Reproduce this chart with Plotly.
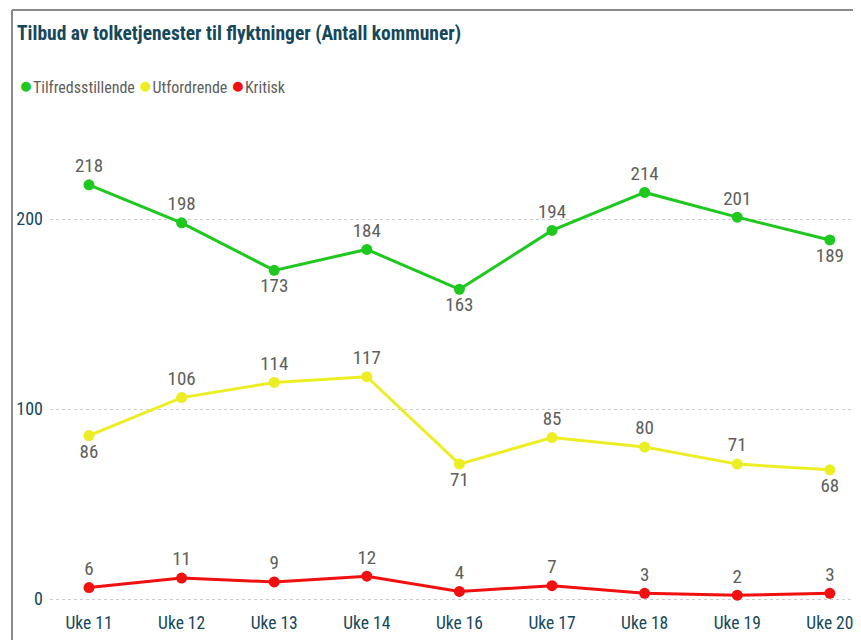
import plotly.graph_objects as go

weeks = ["Uke 11", "Uke 12", "Uke 13", "Uke 14", "Uke 16", "Uke 17", "Uke 18", "Uke 19", "Uke 20"]
tilfreds = [218, 198, 173, 184, 163, 194, 214, 201, 189]
utford = [86, 106, 114, 117, 71, 85, 80, 71, 68]
kritisk = [6, 11, 9, 12, 4, 7, 3, 2, 3]

pos_green = ["top center", "top center", "bottom center", "top center", "bottom center",
             "top center", "top center", "top center", "bottom center"]
pos_yellow = ["bottom center", "top center", "top center", "top center", "bottom center",
              "top center", "top center", "top center", "bottom center"]
pos_red = ["top center"] * 9

FONT = "Liberation Sans Narrow, Roboto Condensed, Arial Narrow, Roboto, sans-serif"
LABEL = dict(size=19, color="#605e5c", family=FONT)

series = [
    ("Tilfredsstillende", tilfreds, "#1ec81e", pos_green),
    ("Utfordrende", utford, "#eded24", pos_yellow),
    ("Kritisk", kritisk, "#f01010", pos_red),
]

fig = go.Figure()
for name, vals, col, pos in series:
    fig.add_trace(go.Scatter(
        x=weeks, y=vals, name=name, mode="lines+markers+text",
        line=dict(color=col, width=3), marker=dict(color=col, size=11),
        text=[str(v) for v in vals], textposition=pos, textfont=LABEL,
        cliponaxis=False, showlegend=False,
    ))

# compact legend (dot + label) as text
legend_text = " ".join(
    f"<span style='color:{col}; font-size:23px'>●</span>{name}"
    for name, vals, col, pos in series
)
fig.add_annotation(text=legend_text, xref="paper", yref="paper",
                   x=-33 / 803, y=1.048, xanchor="left", yanchor="middle",
                   showarrow=False, font=dict(size=16, color="#605e5c", family=FONT))

fig.update_layout(
    width=853, height=632,
    paper_bgcolor="white", plot_bgcolor="white",
    margin=dict(l=42, r=8, t=102, b=30),
    title=dict(text="<b>Tilbud av tolketjenester til flyktninger (Antall kommuner)</b>",
               x=9 / 853, xanchor="left", y=1 - 25 / 632, yanchor="middle",
               font=dict(size=19.5, color="#15485a", family=FONT)),
    showlegend=False,
    font=dict(family=FONT),
)
fig.update_xaxes(range=[-0.421, 8.25], showgrid=False, zeroline=False, showline=False,
                 tickfont=dict(size=17.5, color="#15485a", family=FONT), ticks="")
fig.update_yaxes(range=[-5.79, 257.4], tickvals=[0, 100, 200], showgrid=True,
                 gridcolor="#cccccc", griddash="dot", gridwidth=1, zeroline=False,
                 showline=False, tickfont=dict(size=18, color="#15485a", family=FONT),
                 ticks="", ticklabelstandoff=6)

# outer frame (top and left edges)
fx = -38 / 803
fig.add_shape(type="line", xref="paper", yref="paper", x0=fx, x1=1.1, y0=1.2, y1=1.2,
              line=dict(color="#8a8a8a", width=2))
fig.add_shape(type="line", xref="paper", yref="paper", x0=fx, x1=fx, y0=1.2, y1=-0.1,
              line=dict(color="#8a8a8a", width=2))

fig.write_html("out.html")
